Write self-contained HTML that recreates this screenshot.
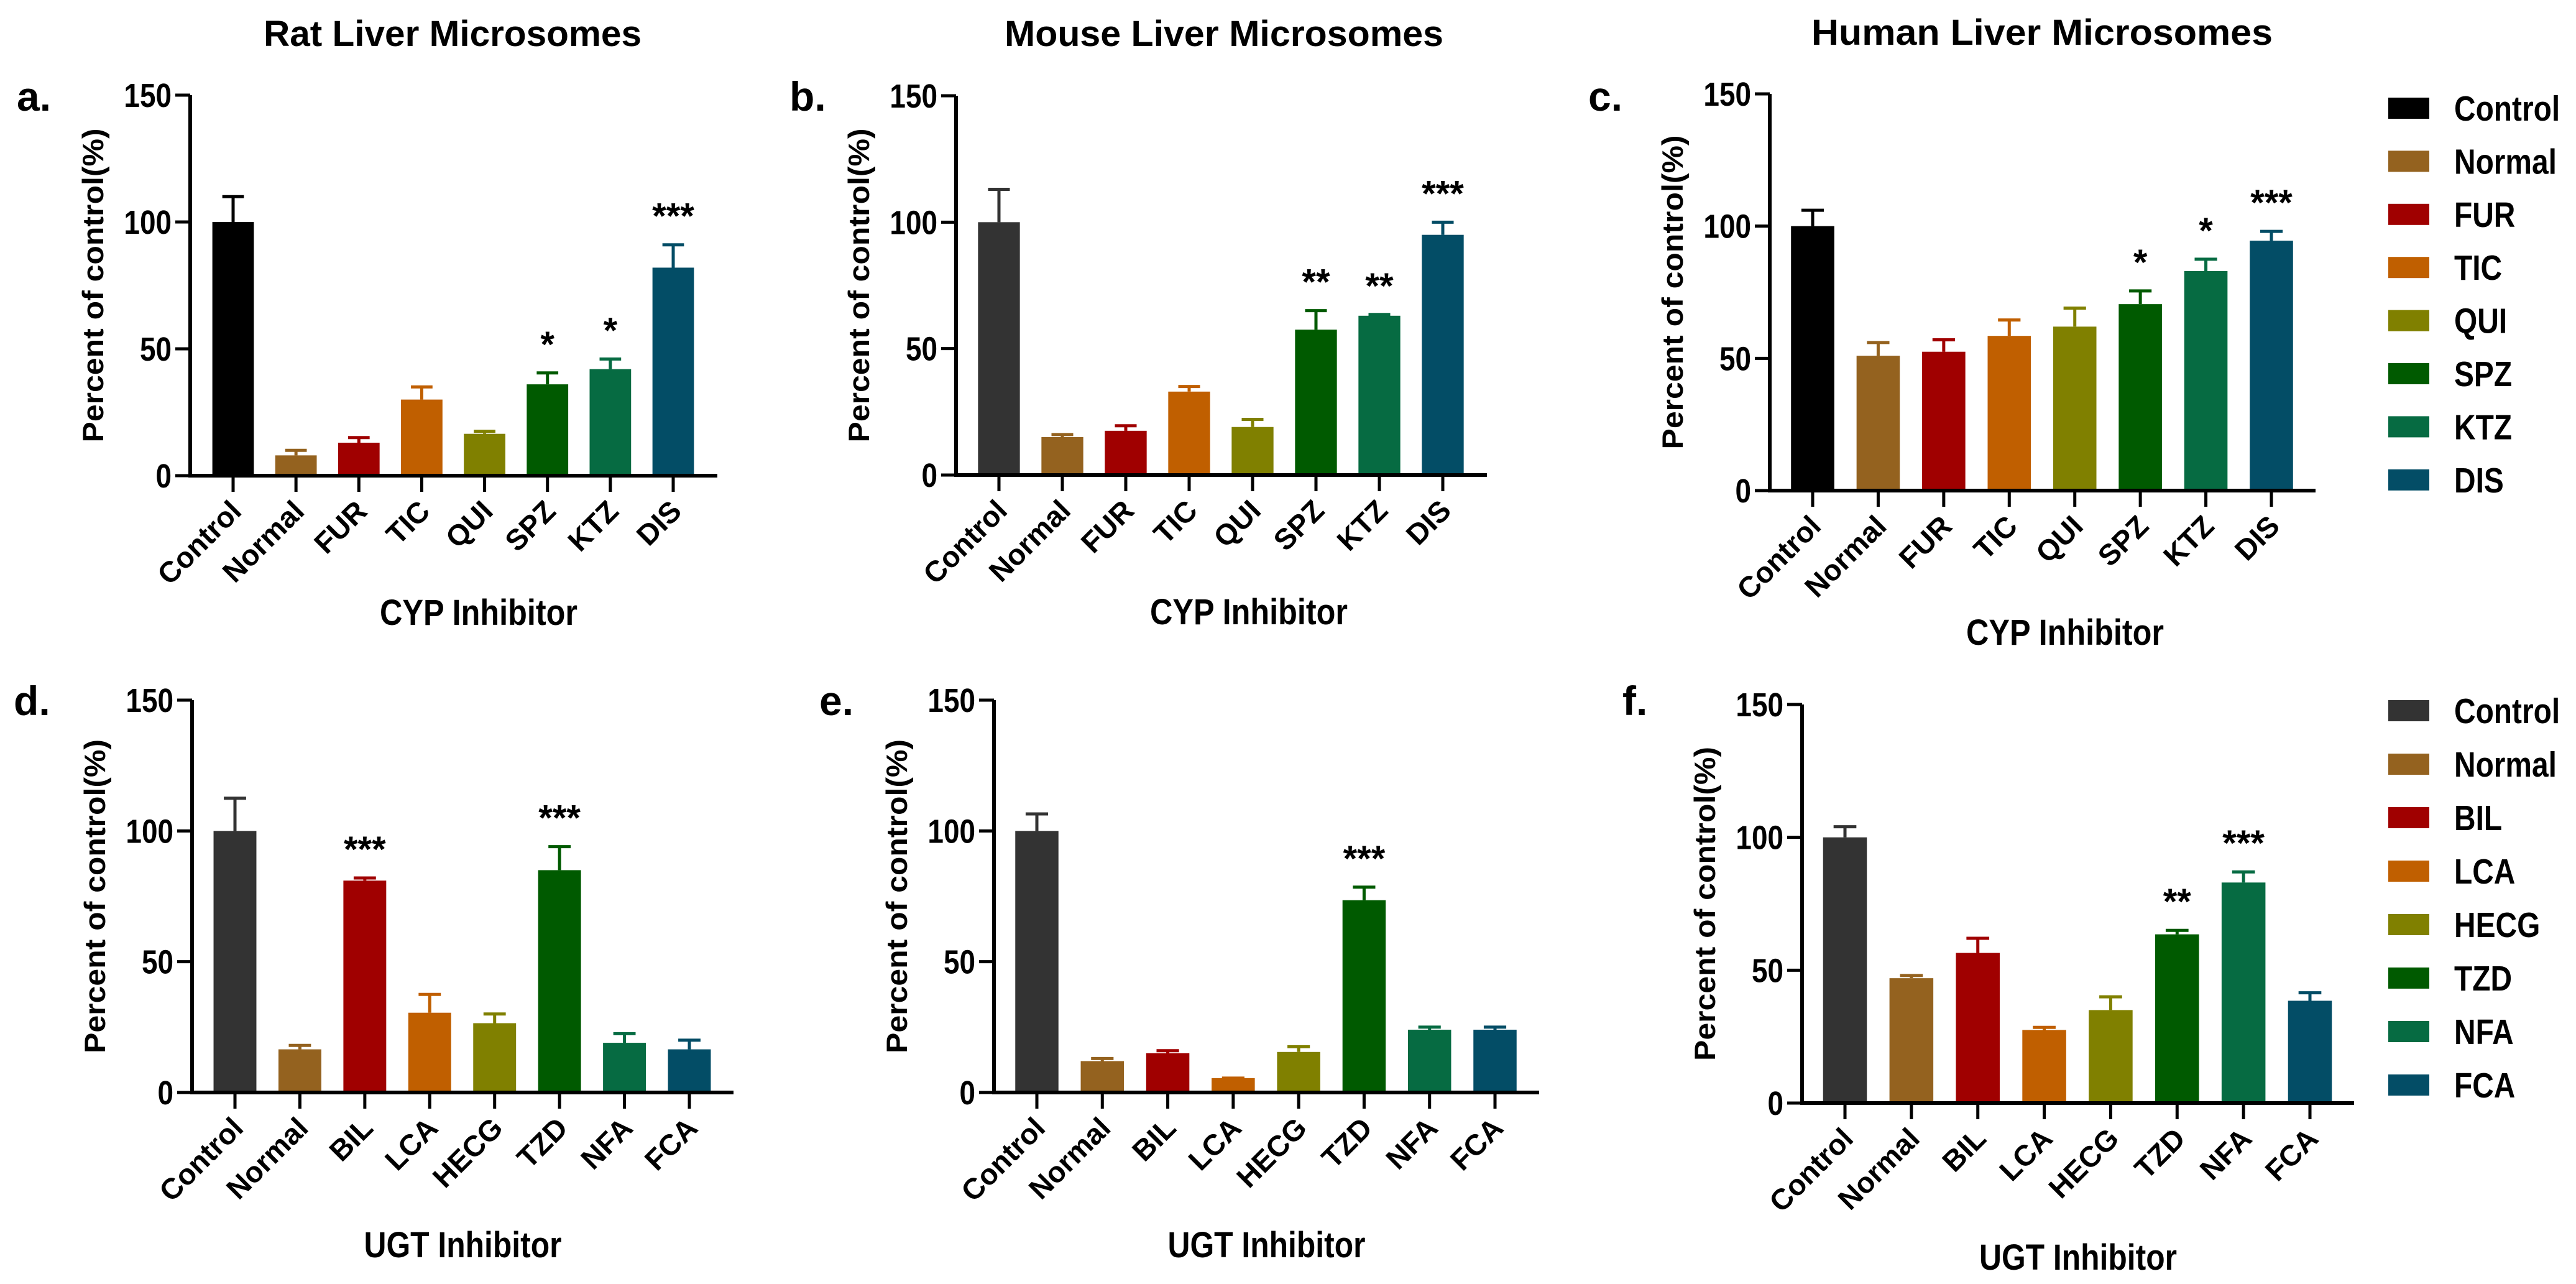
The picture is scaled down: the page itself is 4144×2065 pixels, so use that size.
<!DOCTYPE html>
<html><head><meta charset="utf-8"><style>
html,body{margin:0;padding:0;background:#fff}
svg{display:block;font-family:"Liberation Sans",Arial,sans-serif;font-weight:bold}
</style></head><body>
<svg id="fig" width="4144" height="2065" viewBox="0 0 4144 2065" xmlns="http://www.w3.org/2000/svg">
<g id="root"></g>
</svg>
<script>
const cypCats = ["Control","Normal","FUR","TIC","QUI","SPZ","KTZ","DIS"];
const ugtCats = ["Control","Normal","BIL","LCA","HECG","TZD","NFA","FCA"];
const yTicks = [0,50,100,150];
const ratCypVals = [100,8,13,30,16.5,36,42,82];
const ratCypErr = [110,10,15,35,17.5,40.5,46,91];
const ratCypStars = ["","","","","","*","*","***"];
const mouseCypVals = [100,15,17.5,33,19,57.5,63,95];
const mouseCypErr = [113,16,19.5,35,22,65,63.5,100];
const mouseCypStars = ["","","","","","**","**","***"];
const humanCypVals = [100,51,52.5,58.5,62,70.5,83,94.5];
const humanCypErr = [106,56,57,64.5,69,75.5,87.5,98];
const humanCypStars = ["","","","","","*","*","***"];
const ratUgtVals = [100,16.5,81,30.5,26.5,85,19,16.5];
const ratUgtErr = [112.5,18,82,37.5,30,94,22.5,20];
const ratUgtStars = ["","","***","","","***","",""];
const mouseUgtVals = [100,12,15,5.5,15.5,73.5,24,24];
const mouseUgtErr = [106.5,13,16,5.5,17.5,78.5,25,25];
const mouseUgtStars = ["","","","","","***","",""];
const humanUgtVals = [100,47,56.5,27.5,35,63.5,83,38.5];
const humanUgtErr = [104,48,62,28.5,40,65,87,41.5];
const humanUgtStars = ["","","","","","**","***",""];

const colsTop = ["#000000","#94621f","#a00000","#c05f00","#808000","#005a00","#066b42","#034d66"];
const colsB = ["#333333","#94621f","#a00000","#c05f00","#808000","#005a00","#066b42","#034d66"];

const NS="http://www.w3.org/2000/svg";
const root=document.getElementById('root');
function mk(tag,attrs,parent,txt){const e=document.createElementNS(NS,tag);for(const k in attrs)e.setAttribute(k,attrs[k]);if(txt!==undefined)e.textContent=txt;(parent||root).appendChild(e);return e;}

const panels=[
 {id:'a',title:'Rat Liver Microsomes',tx:728,ty:74,tl:608,x0:306,x1:1154,yt:153,y0:765,cats:cypCats,v:ratCypVals,e:ratCypErr,s:ratCypStars,cols:colsTop,xt:'CYP Inhibitor',xto:40,xty:240,lx:27,ly:178},
 {id:'b',title:'Mouse Liver Microsomes',tx:1969,ty:74,tl:706,x0:1538,x1:2392,yt:154,y0:764,cats:cypCats,v:mouseCypVals,e:mouseCypErr,s:mouseCypStars,cols:colsB,xt:'CYP Inhibitor',xto:44,xty:240,lx:1270,ly:178},
 {id:'c',title:'Human Liver Microsomes',tx:3285,ty:72,tl:742,x0:2847,x1:3725,yt:151,y0:789,cats:cypCats,v:humanCypVals,e:humanCypErr,s:humanCypStars,cols:colsTop,xt:'CYP Inhibitor',xto:36,xty:248,lx:2555,ly:178},
 {id:'d',x0:309,x1:1180,yt:1126,y0:1757,cats:ugtCats,v:ratUgtVals,e:ratUgtErr,s:ratUgtStars,cols:colsB,xt:'UGT Inhibitor',xto:0,xty:265,lx:22,ly:1150},
 {id:'e',x0:1599,x1:2476,yt:1126,y0:1757,cats:ugtCats,v:mouseUgtVals,e:mouseUgtErr,s:mouseUgtStars,cols:colsB,xt:'UGT Inhibitor',xto:0,xty:265,lx:1318,ly:1150},
 {id:'f',x0:2899,x1:3787,yt:1133,y0:1774,cats:ugtCats,v:humanUgtVals,e:humanUgtErr,s:humanUgtStars,cols:colsB,xt:'UGT Inhibitor',xto:0,xty:268,lx:2610,ly:1150}
];

panels.forEach(p=>{
  const g=mk('g',{});
  
  
  const yS=v=>p.y0-(v/150)*(p.y0-p.yt);
  const n=p.cats.length;
  const sp=(p.x1-p.x0-140)/(n-1);
  const xS=i=>p.x0+69+i*sp;
  const bw=sp*0.66;
  if(p.title){
    const t=mk('text',{x:p.tx,y:p.ty,'text-anchor':'middle','font-size':58,textLength:p.tl,lengthAdjust:'spacingAndGlyphs'},g,p.title);
    
    
  }
  const pl=mk('text',{x:p.lx,y:p.ly,'font-size':66},g,p.id+'.');
  
  
  for(let i=0;i<n;i++){
    const cx=xS(i);
    const eb=mk('path',{d:`M${cx},${yS(p.v[i])}V${yS(p.e[i])}M${cx-bw*0.26},${yS(p.e[i])}H${cx+bw*0.26}`,stroke:p.cols[i],'stroke-width':5,fill:'none'},g);
    
    
    const r=mk('rect',{x:cx-bw/2,y:yS(p.v[i]),width:bw,height:p.y0-yS(p.v[i]),fill:p.cols[i]},g);
    
    
    if(p.s[i]){
      const st=mk('text',{x:cx,y:yS(p.e[i])-26,'text-anchor':'middle','font-size':58},g,p.s[i]);
      
      
    }
    const tk=mk('line',{x1:cx,x2:cx,y1:p.y0,y2:p.y0+26,stroke:'#000','stroke-width':5},g);
    
    
    const lb=mk('text',{x:0,y:0,'text-anchor':'end','font-size':47,transform:`translate(${cx+16},${p.y0+60}) rotate(-45)`},g,p.cats[i]);
    
    
  }
  const ax=mk('path',{d:`M${p.x0},${p.yt}V${p.y0}H${p.x1}`,stroke:'#000','stroke-width':6,fill:'none'},g);
  
  
  yTicks.forEach(v=>{
    const y=yS(v);
    const t=mk('line',{x1:p.x0-24,x2:p.x0,y1:y,y2:y,stroke:'#000','stroke-width':5},g);
    
    
    const tl=mk('text',{x:0,y:0,'text-anchor':'end','font-size':54,transform:`translate(${p.x0-30},${y+19}) scale(0.85,1)`},g,String(v));
    
    
  });
  const yl=mk('text',{x:0,y:0,'text-anchor':'middle','font-size':47,textLength:505,lengthAdjust:'spacingAndGlyphs',transform:`translate(${p.x0-140},${(p.yt+p.y0)/2}) rotate(-90)`},g,'Percent of control(%)');
  
  
  const xl=mk('text',{x:(p.x0+p.x1)/2+p.xto,y:p.y0+p.xty,'text-anchor':'middle','font-size':58,textLength:318,lengthAdjust:'spacingAndGlyphs'},g,p.xt);
  
  
});

function legend(cats,cols,y0,step,name){
  const g=mk('g',{});
  
  
  cats.forEach((c,i)=>{
    const cy=y0+i*step;
    const r=mk('rect',{x:3842,y:cy-17,width:66,height:34,fill:cols[i]},g);
    
    
    const t=mk('text',{x:0,y:0,'font-size':57,transform:`translate(3948,${cy+20}) scale(0.84,1)`},g,c);
    
    
  });
}
legend(cypCats,colsTop,174,85.4,'legend-cyp');
legend(ugtCats,colsB,1143,86,'legend-ugt');
</script>
</body></html>
